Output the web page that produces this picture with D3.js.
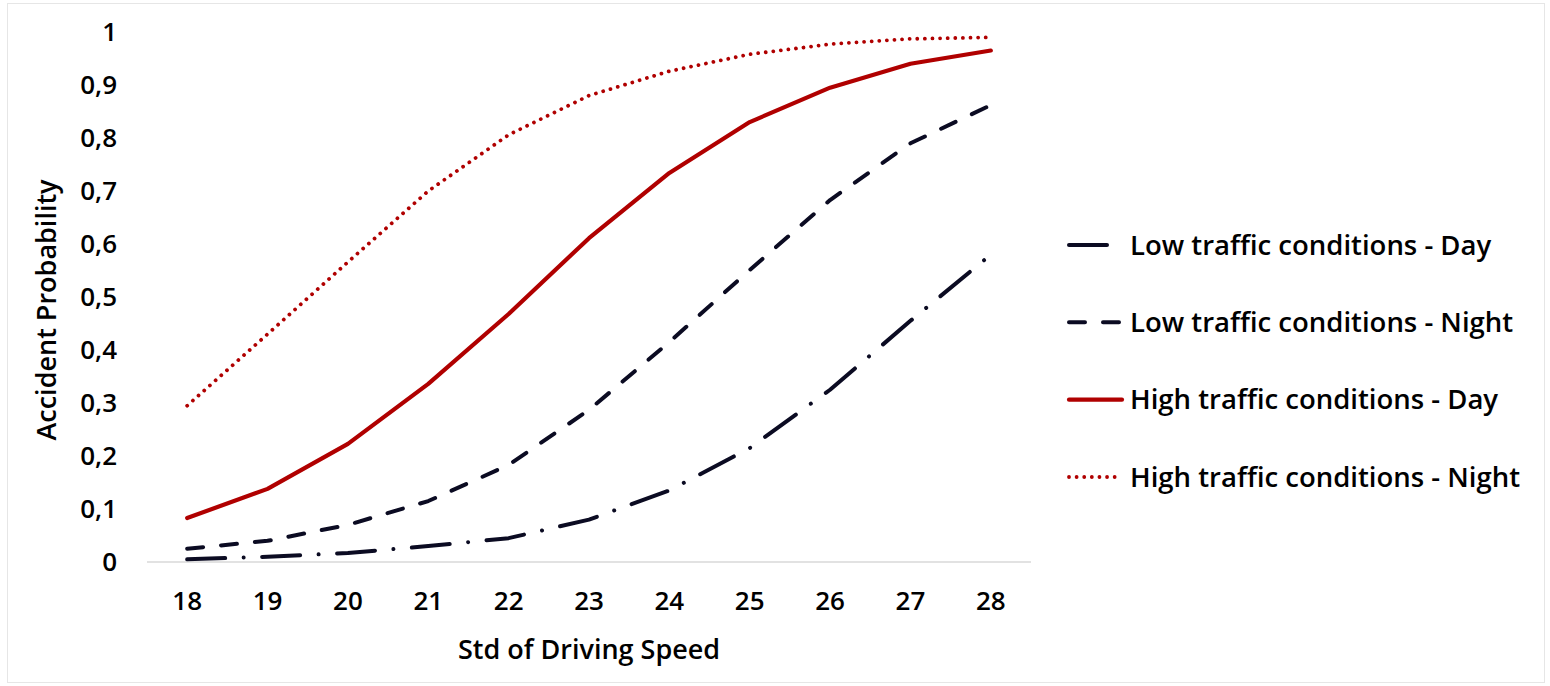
<!DOCTYPE html>
<html><head><meta charset="utf-8">
<script src="https://cdn.jsdelivr.net/npm/d3@7/dist/d3.min.js"></script>
<style>
body{margin:0;background:#fff;}
text{font-family:"Open Sans","Noto Sans",sans-serif;}
</style></head>
<body><svg id="c" width="1550" height="686"></svg>
<script>
const categories = [18,19,20,21,22,23,24,25,26,27,28];
const yTicks = [0,0.1,0.2,0.3,0.4,0.5,0.6,0.7,0.8,0.9,1];
const lowDay    = [0.005,0.01,0.017,0.03,0.045,0.08,0.135,0.215,0.325,0.455,0.58];
const lowNight  = [0.025,0.04,0.07,0.115,0.183,0.287,0.415,0.551,0.683,0.79,0.862];
const highDay   = [0.083,0.138,0.223,0.336,0.468,0.611,0.734,0.83,0.895,0.94,0.965];
const highNight = [0.295,0.43,0.566,0.70,0.806,0.88,0.926,0.958,0.977,0.987,0.99];
const seriesNames = ["Low traffic conditions - Day","Low traffic conditions - Night","High traffic conditions - Day","High traffic conditions - Night"];

const dark = "#0b0b22", red = "#b00000";
const series = [
  {name:seriesNames[0], values:lowDay, color:dark, dash:"38 18.5 0.01 18.5", width:4},
  {name:seriesNames[1], values:lowNight, color:dark, dash:"16 18", width:4},
  {name:seriesNames[2], values:highDay, color:red, dash:null, width:4.2},
  {name:seriesNames[3], values:highNight, color:red, dash:"0.01 7.6", width:3.8}
];

const svg = d3.select("#c");
svg.append("rect").attr("x",7.5).attr("y",3.5).attr("width",1537).attr("height",679)
  .attr("fill","#fff").attr("stroke","#e6e6e6");

const x = d3.scaleBand().domain(categories).range([147,1031]);
const y = d3.scaleLinear().domain([0,1]).range([562,32]);

// baseline
svg.append("line").attr("x1",147).attr("x2",1031).attr("y1",y(0)).attr("y2",y(0))
  .attr("stroke","#d9d9d9").attr("stroke-width",1.3);

const fmt = v => String(+v.toFixed(1)).replace(".",",");
const yAxis = svg.append("g").attr("transform","translate(124,0)")
  .call(d3.axisLeft(y).tickValues(yTicks).tickFormat(fmt).tickSize(0).tickPadding(7));
yAxis.select(".domain").remove();
yAxis.selectAll("text").attr("font-size",26).attr("font-weight",600).attr("fill","#000")
  .attr("font-family","'Open Sans',sans-serif");

const xAxis = svg.append("g").attr("transform","translate(0,592)")
  .call(d3.axisBottom(x).tickSize(0).tickPadding(0));
xAxis.select(".domain").remove();
xAxis.selectAll("text").attr("font-size",26).attr("font-weight",600).attr("fill","#000")
  .attr("font-family","'Open Sans',sans-serif");

svg.append("text").attr("x",589).attr("y",659).attr("text-anchor","middle")
  .attr("font-size",27).attr("font-weight",600).text("Std of Driving Speed");
svg.append("text").attr("transform","translate(56,310) rotate(-90)").attr("text-anchor","middle")
  .attr("font-size",27).attr("font-weight",600).text("Accident Probability");

const line = d3.line().x((d,i)=>x(categories[i])+x.bandwidth()/2).y(d=>y(d));
series.forEach(s=>{
  svg.append("path").datum(s.values).attr("d",line).attr("fill","none")
    .attr("stroke",s.color).attr("stroke-width",s.width)
    .attr("stroke-linecap","round").attr("stroke-linejoin","round")
    .attr("stroke-dasharray",s.dash);
});

// legend
const legY = d3.scalePoint().domain(seriesNames).range([245,477]);
const legDash = ["38 100","16 18","","0.01 7.6"];
series.forEach((s,i)=>{
  const g = svg.append("g").attr("transform",`translate(0,${legY(s.name)})`);
  g.append("line").attr("x1",1069).attr("x2",1122).attr("y1",0).attr("y2",0)
    .attr("stroke",s.color).attr("stroke-width",s.width)
    .attr("stroke-linecap","round").attr("stroke-dasharray",legDash[i]||null);
  g.append("text").attr("x",1130).attr("y",0).attr("dy","0.35em")
    .attr("font-size",27.5).attr("font-weight",600).text(s.name);
});
</script></body></html>
